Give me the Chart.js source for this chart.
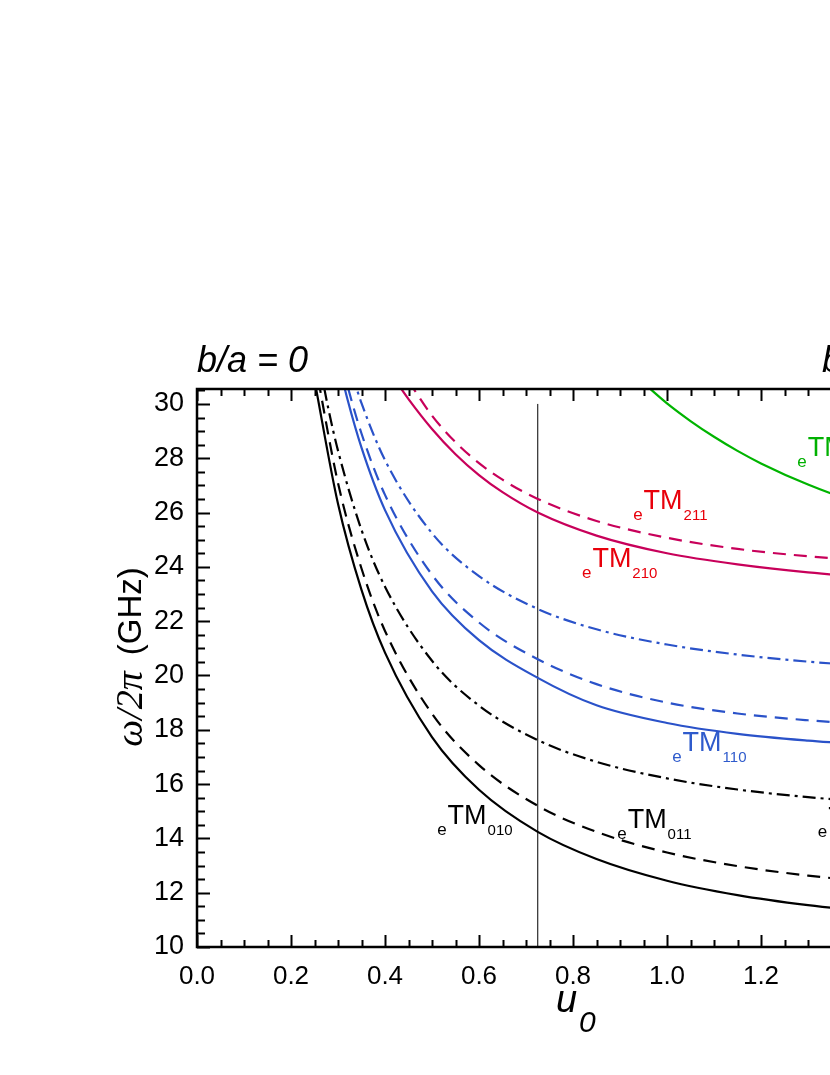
<!DOCTYPE html>
<html lang="en">
<head>
    <meta charset="UTF-8">
    <title>Resonant frequency vs u0</title>
    <style>
        html, body {
            margin: 0;
            padding: 0;
            background: #ffffff;
            overflow: hidden;
        }
        #chart {
            position: absolute;
            left: 0;
            top: 0;
        }
    </style>
</head>
<body>
    <canvas id="chart" width="1000" height="1075"></canvas>

    <script src="https://cdn.jsdelivr.net/npm/chart.js"></script>
    <script>
        // mode curves (u0, frequency in GHz)
        const uTM010 = [0.25, 0.3, 0.35, 0.4, 0.5, 0.6, 0.725, 0.85, 1.0, 1.15, 1.3, 1.45, 1.6];
        const fTM010 = [30.87, 26.32, 23.15, 20.84, 17.73, 15.79, 14.24, 13.24, 12.44, 11.91, 11.54, 11.27, 11.06];

        const uTM011 = [0.25, 0.3, 0.35, 0.4, 0.5, 0.6, 0.725, 0.85, 1.0, 1.15, 1.3, 1.45, 1.6];
        const fTM011 = [31.64, 27.09, 23.94, 21.64, 18.59, 16.70, 15.20, 14.24, 13.48, 12.98, 12.63, 12.38, 12.19];

        const uTM012 = [0.26, 0.28, 0.3, 0.35, 0.4, 0.5, 0.6, 0.725, 0.85, 1.0, 1.15, 1.3, 1.45, 1.6];
        const fTM012 = [31.54, 29.78, 28.28, 25.36, 23.27, 20.54, 18.89, 17.62, 16.82, 16.21, 15.80, 15.52, 15.32, 15.17];

        const uTM110 = [0.3, 0.32, 0.35, 0.4, 0.5, 0.6, 0.725, 0.85, 1.0, 1.15, 1.3, 1.45, 1.6];
        const fTM110 = [31.6, 30.18, 28.39, 26.09, 23.10, 21.30, 19.91, 18.9, 18.25, 17.85, 17.6, 17.42, 17.25];

        const uTM111 = [0.3, 0.32, 0.35, 0.4, 0.5, 0.6, 0.725, 0.85, 1.0, 1.15, 1.3, 1.45, 1.6];
        const fTM111 = [32.08, 30.68, 28.91, 26.65, 23.71, 21.95, 20.6, 19.68, 19.0, 18.6, 18.35, 18.17, 18.03];

        const uTM112 = [0.33, 0.35, 0.4, 0.5, 0.6, 0.725, 0.85, 1.0, 1.15, 1.3, 1.45, 1.6];
        const fTM112 = [31.09, 30.03, 27.93, 25.24, 23.66, 22.45, 21.70, 21.14, 20.77, 20.51, 20.33, 20.2];

        const uTM210 = [0.42, 0.45, 0.5, 0.55, 0.6, 0.65, 0.725, 0.85, 1.0, 1.15, 1.3, 1.45, 1.6];
        const fTM210 = [30.92, 30.18, 29.08, 28.15, 27.38, 26.75, 26.0, 25.15, 24.5, 24.09, 23.8, 23.6, 23.45];

        const uTM211 = [0.45, 0.5, 0.55, 0.6, 0.65, 0.725, 0.85, 1.0, 1.15, 1.3, 1.45, 1.6];
        const fTM211 = [30.84, 29.57, 28.59, 27.82, 27.21, 26.5, 25.69, 25.07, 24.66, 24.39, 24.19, 24.05];

        const uTM310 = [0.95, 1.0, 1.05, 1.1, 1.15, 1.2, 1.3, 1.4, 1.5, 1.6];
        const fTM310 = [30.77, 30.02, 29.37, 28.79, 28.27, 27.81, 27.03, 26.39, 25.86, 25.42];

        // vertical marker at u0 = 0.725
        const markerU = 0.725;
        const markerF = [10, 30];

        // mode labels: anchor is the left of the "e", at the TM baseline
        const labelU = [0.511, 0.894, 1.321, 1.011, 0.819, 0.928, 1.277];
        const labelF = [14.53, 14.38, 14.46, 17.23, 24.01, 26.13, 28.10];
        const labelSub = ['010', '011', '012', '110', '210', '211', '310'];
        const labelColor = ['#000000', '#000000', '#000000', '#2f5bcc', '#e8000b', '#e8000b', '#00b000'];

        const BLACK = '#000000';
        const BLUE = '#2a52c9';
        const RED = '#c8005a';
        const GREEN = '#00b400';
        const SANS = '"Liberation Sans", Arial, sans-serif';

        function pts(us, fs) {
            return us.map((u, i) => ({ x: u, y: fs[i] }));
        }

        function curve(us, fs, color, dash) {
            return {
                data: pts(us, fs),
                borderColor: color,
                borderWidth: 2.2,
                borderDash: dash,
                cubicInterpolationMode: 'monotone',
                pointRadius: 0,
                fill: false
            };
        }

        const DASH = [13, 8];
        const DASHDOT = [13, 5, 3, 5];

        // frame, inward ticks and all the annotation text
        const framePlugin = {
            id: 'frame',
            afterDraw(chart) {
                const ctx = chart.ctx;
                const a = chart.chartArea;
                const xs = chart.scales.x;
                const ys = chart.scales.y;
                ctx.save();
                ctx.strokeStyle = '#000';
                ctx.lineWidth = 2.5;
                ctx.beginPath();
                ctx.moveTo(a.left, a.top);
                ctx.lineTo(a.right, a.top);
                ctx.lineTo(a.right, a.bottom);
                ctx.lineTo(a.left, a.bottom);
                ctx.closePath();
                ctx.stroke();

                ctx.lineWidth = 2;
                ctx.beginPath();
                for (let i = 0; i <= 32; i++) {
                    const v = i * 0.05;
                    const px = Math.round(xs.getPixelForValue(v)) + 0.5;
                    const len = (i % 4 === 0) ? 12 : 7;
                    ctx.moveTo(px, a.bottom);
                    ctx.lineTo(px, a.bottom - len);
                    ctx.moveTo(px, a.top);
                    ctx.lineTo(px, a.top + len);
                }
                for (let i = 0; i <= 41; i++) {
                    const v = 10 + i * 0.5;
                    if (v > 30.55) break;
                    const py = Math.round(ys.getPixelForValue(v)) + 0.5;
                    const len = (i % 4 === 0) ? 13 : 8;
                    ctx.moveTo(a.left, py);
                    ctx.lineTo(a.left + len, py);
                    ctx.moveTo(a.right, py);
                    ctx.lineTo(a.right - len, py);
                }
                ctx.stroke();

                // mode labels
                ctx.textBaseline = 'alphabetic';
                ctx.textAlign = 'left';
                for (let i = 0; i < labelU.length; i++) {
                    let x = xs.getPixelForValue(labelU[i]);
                    const y = ys.getPixelForValue(labelF[i]);
                    ctx.fillStyle = labelColor[i];
                    ctx.font = '17px ' + SANS;
                    ctx.fillText('e', x, y + 11);
                    x += ctx.measureText('e').width + 1;
                    ctx.font = '27px ' + SANS;
                    ctx.fillText('TM', x, y);
                    x += ctx.measureText('TM').width + 1;
                    ctx.font = '15px ' + SANS;
                    ctx.fillText(labelSub[i], x, y + 11);
                }

                // panel titles
                ctx.fillStyle = '#000';
                ctx.font = 'italic 36px ' + SANS;
                ctx.fillText('b/a = 0', 197, 372);
                ctx.fillText('b/a = 0.5', 822, 372);

                // x title
                ctx.font = 'italic 38px ' + SANS;
                ctx.fillText('u', 556, 1012);
                ctx.font = 'italic 30px ' + SANS;
                ctx.fillText('0', 579, 1032);

                // y title, rotated
                ctx.translate(132, 657);
                ctx.rotate(-Math.PI / 2);
                ctx.textBaseline = 'middle';
                const part1 = '\u03C9/2\u03C0';
                const part2 = '(GHz)';
                ctx.font = 'italic 38px "Liberation Serif", "Times New Roman", serif';
                const w1 = ctx.measureText(part1).width;
                ctx.font = '33px ' + SANS;
                const w2 = ctx.measureText(part2).width;
                const gap = 16;
                let sx = -(w1 + gap + w2) / 2;
                ctx.font = 'italic 38px "Liberation Serif", "Times New Roman", serif';
                ctx.fillText(part1, sx, 0);
                ctx.font = '33px ' + SANS;
                ctx.fillText(part2, sx + w1 + gap, 0);
                ctx.restore();
            }
        };

        const ctx = document.getElementById('chart').getContext('2d');
        const chart = new Chart(ctx, {
            type: 'line',
            data: {
                datasets: [
                    curve(uTM010, fTM010, BLACK, []),
                    curve(uTM011, fTM011, BLACK, DASH),
                    curve(uTM012, fTM012, BLACK, DASHDOT),
                    curve(uTM110, fTM110, BLUE, []),
                    curve(uTM111, fTM111, BLUE, DASH),
                    curve(uTM112, fTM112, BLUE, DASHDOT),
                    curve(uTM210, fTM210, RED, []),
                    curve(uTM211, fTM211, RED, DASH),
                    curve(uTM310, fTM310, GREEN, []),
                    {
                        data: markerF.map(f => ({ x: markerU, y: f })),
                        borderColor: '#000',
                        borderWidth: 1,
                        pointRadius: 0
                    }
                ]
            },
            options: {
                responsive: false,
                animation: false,
                layout: { padding: { top: 389, left: 0, right: 51, bottom: 0 } },
                plugins: {
                    legend: { display: false },
                    tooltip: { enabled: false }
                },
                scales: {
                    x: {
                        type: 'linear',
                        min: 0,
                        max: 1.6,
                        afterFit(scale) { scale.height = 128; },
                        grid: { display: false, drawTicks: false },
                        border: { display: false },
                        ticks: {
                            stepSize: 0.2,
                            autoSkip: false,
                            maxRotation: 0,
                            padding: 14,
                            color: '#000',
                            font: { family: SANS, size: 26 },
                            callback: v => v.toFixed(1)
                        }
                    },
                    y: {
                        type: 'linear',
                        min: 10,
                        max: 30.55,
                        afterFit(scale) { scale.width = 197; },
                        grid: { display: false, drawTicks: false },
                        border: { display: false },
                        ticks: {
                            stepSize: 2,
                            includeBounds: false,
                            padding: 13,
                            color: '#000',
                            font: { family: SANS, size: 27 },
                            callback: v => String(v)
                        }
                    }
                }
            },
            plugins: [framePlugin]
        });
    </script>
</body>
</html>
